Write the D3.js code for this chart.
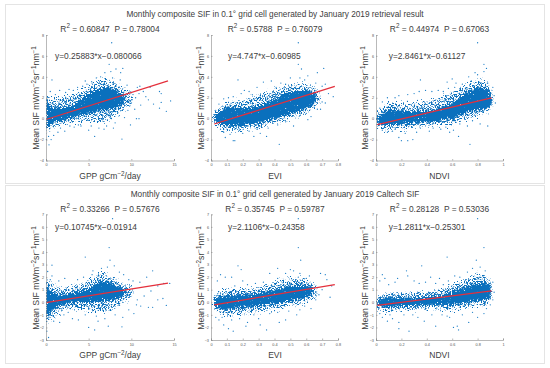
<!DOCTYPE html>
<html>
<head>
<meta charset="utf-8">
<script src="https://cdn.jsdelivr.net/npm/d3@7"></script>
<style>
  body { margin: 0; background: #fff; }
  text { font-family: "Liberation Sans", Arial, sans-serif; fill: #404040; white-space: pre; }
</style>
</head>
<body>
<div id="chart"></div>
<script>
// Headings and labels
var topTitle = "Monthly composite SIF in 0.1° grid cell generated by January 2019 retrieval result";
var bottomTitle = "Monthly composite SIF in 0.1° grid cell generated by January 2019 Caltech SIF";
var xLabels = [["GPP gCm", "−2", "/day"], ["EVI"], ["NDVI"]];

var gppTicks = [0, 5, 10, 15];
var eviTicks = [0, 0.1, 0.2, 0.3, 0.4, 0.5, 0.6, 0.7, 0.8];
var ndviTicks = [0, 0.2, 0.4, 0.6, 0.8, 1];
var topYTicks = [-4, -2, 0, 2, 4, 6, 8];
var bottomYTicks = [-3, -2, -1, 0, 1, 2, 3, 4, 5, 6, 7];

var topR2 = ["0.60847", "0.5788", "0.44974"];
var topP = ["0.78004", "0.76079", "0.67063"];
var topEq = ["y=0.25883*x−0.080066", "y=4.747*x−0.60985", "y=2.8461*x−0.61127"];
var bottomR2 = ["0.33266", "0.35745", "0.28128"];
var bottomP = ["0.57676", "0.59787", "0.53036"];
var bottomEq = ["y=0.10745*x−0.01914", "y=2.1106*x−0.24358", "y=1.2811*x−0.25301"];

// Fit lines, end points
var gppTopFit = [[0, -0.08], [14.3, 3.62]];
var eviTopFit = [[0.02, -0.51], [0.78, 3.09]];
var ndviTopFit = [[0.01, -0.58], [0.91, 1.98]];
var gppBottomFit = [[0, -0.02], [14.3, 1.52]];
var eviBottomFit = [[0.02, -0.2], [0.78, 1.4]];
var ndviBottomFit = [[0.01, -0.24], [0.91, 0.91]];

// The clouds hold thousands of points that can't be read one by one,
// so the saturated core and the speckled fringe are outlines
var gppTopCore = [[0,-0.9],[1,-0.3],[2,-0.1],[3,0.1],[4,0.4],[5,0.5],[6,0.8],[7,0.8],[8,1],[9,1.4],[9.2,1.8],[9,2.2],[8,2.8],[7,3],[6,2.8],[5,2.4],[4,1.8],[3,1.2],[2,1.1],[1,1],[0,1.4]];
var gppTopHalo = [[0,-1.4],[1,-0.8],[2,-0.5],[3,-0.3],[4,-0.2],[5,-0.2],[6,-0.2],[7,-0.2],[8,0.1],[9,0.7],[10,1.3],[10.4,1.8],[10,2.5],[9,3],[8,3.5],[7,3.9],[6,3.5],[5,3],[4,2.5],[3,2.2],[2,2],[1,1.8],[0,2]];
var eviTopCore = [[0.02,-0.2],[0.05,-0.55],[0.1,-0.7],[0.2,-0.6],[0.3,-0.4],[0.4,0],[0.5,0.5],[0.6,1],[0.65,1.5],[0.66,2],[0.65,2.4],[0.6,2.7],[0.5,2.6],[0.4,1.9],[0.3,1.2],[0.2,1],[0.1,1.1],[0.05,0.6],[0.02,0.2]];
var eviTopHalo = [[0.01,-0.1],[0.05,-0.7],[0.1,-1.1],[0.2,-1],[0.3,-0.9],[0.4,-0.4],[0.5,0],[0.6,0.6],[0.67,1.2],[0.7,1.9],[0.68,2.7],[0.6,3.3],[0.5,3.2],[0.4,2.7],[0.3,2.2],[0.2,1.7],[0.1,1.6],[0.05,0.8],[0.01,0.2]];
var ndviTopCore = [[0.01,-0.5],[0.1,-0.6],[0.2,-0.5],[0.3,-0.4],[0.4,-0.3],[0.5,-0.2],[0.6,0],[0.7,0.6],[0.8,0.8],[0.88,1],[0.91,1.5],[0.9,2.5],[0.88,2.9],[0.8,3],[0.7,2.4],[0.6,1.5],[0.5,1],[0.4,0.8],[0.3,0.6],[0.2,0.7],[0.1,0.9],[0.01,0.2]];
var ndviTopHalo = [[0.01,-0.7],[0.1,-1],[0.2,-0.9],[0.3,-0.8],[0.4,-0.7],[0.5,-0.5],[0.6,-0.5],[0.7,0],[0.8,0.2],[0.88,0.7],[0.92,1.1],[0.93,1.8],[0.92,2.5],[0.88,3.5],[0.8,3.6],[0.7,3.1],[0.6,2.5],[0.5,1.9],[0.4,1.6],[0.3,1.4],[0.2,1.4],[0.1,1.4],[0.01,0.4]];
var gppBottomCore = [[0,-1.2],[1,-0.4],[2,-0.2],[3,0],[4,0],[5,0],[6,0.1],[7,0.1],[8,0.2],[9,0.5],[9.3,0.8],[9,1],[8,1.4],[7,1.7],[6,1.6],[5,1.1],[4,0.9],[3,0.7],[2,0.6],[1,0.6],[0,1.2]];
var gppBottomHalo = [[0,-1.8],[1,-1.1],[2,-0.7],[3,-0.5],[4,-0.5],[5,-0.6],[6,-0.7],[7,-0.7],[8,-0.5],[9,-0.1],[10,0.4],[10.4,0.9],[10,1.3],[9,1.5],[8,1.9],[7,2.3],[6,2.1],[5,1.7],[4,1.4],[3,1.2],[2,1.1],[1,1.3],[0,1.8]];
var eviBottomCore = [[0.02,-0.3],[0.05,-0.6],[0.1,-0.6],[0.2,-0.4],[0.3,-0.3],[0.4,-0.1],[0.5,0.1],[0.6,0.4],[0.63,0.6],[0.63,1.1],[0.6,1.3],[0.5,1.3],[0.4,1],[0.3,0.7],[0.2,0.6],[0.1,0.5],[0.05,0.5],[0.02,0.2]];
var eviBottomHalo = [[0.015,-0.1],[0.03,-0.5],[0.1,-1],[0.2,-0.9],[0.3,-0.7],[0.4,-0.5],[0.5,-0.3],[0.6,0],[0.67,0.5],[0.68,1],[0.65,1.5],[0.6,1.8],[0.5,1.9],[0.4,1.5],[0.3,1.1],[0.2,1],[0.1,1],[0.03,0.5]];
var ndviBottomCore = [[0.01,-0.3],[0.1,-0.4],[0.2,-0.3],[0.3,-0.3],[0.4,-0.2],[0.5,-0.2],[0.6,-0.2],[0.7,0],[0.8,0.1],[0.88,0.2],[0.9,0.5],[0.9,1.2],[0.88,1.6],[0.8,1.5],[0.7,1.2],[0.6,0.9],[0.5,0.5],[0.4,0.4],[0.3,0.3],[0.2,0.4],[0.1,0.4],[0.01,0.2]];
var ndviBottomHalo = [[0.01,-0.4],[0.1,-0.7],[0.2,-0.6],[0.3,-0.6],[0.4,-0.5],[0.5,-0.5],[0.6,-0.6],[0.7,-0.4],[0.8,-0.3],[0.88,-0.2],[0.92,0.4],[0.92,1.2],[0.88,2.1],[0.8,2.2],[0.7,1.7],[0.6,1.3],[0.5,0.9],[0.4,0.8],[0.3,0.7],[0.2,0.7],[0.1,0.7],[0.01,0.4]];

// Individual points that stand clear of the clouds
var gppTopDots = [[7.7,7.26],[7.4,5.2],[8.2,4.75],[7.6,4.5],[9,4.8],[6.9,4.4],[0.7,3.7],[4.6,3.6],[5.35,3.55],[8.75,4.4],[8.9,-1.95],[5.7,-1.7],[0.35,-2.5],[0.6,-2],[0.05,-2],[5,-1.1],[9.9,-0.6],[10.6,0],[10.9,0],[14.1,0.7],[13.3,1],[13.5,1.55],[13.3,2.6],[13.5,2.4],[12.6,1.4],[11.7,2.1],[12,1.8],[10.7,3],[10.9,2.4],[10.2,2.3],[11.4,2.6],[14.6,1.7],[12.2,3],[11,3.1],[7.9,-0.9],[7.1,-0.7],[8.1,-0.4],[9.2,0.1],[9.6,0.8],[10.4,0.9],[11.1,1.3],[6.4,4],[5.9,3.9],[6.2,-0.9],[4.1,-0.7],[3.3,-0.8],[2.2,-1.2],[1.4,-1.3],[0.9,-1.6],[0.3,-1.7],[0.5,2.6],[1.1,2.3],[1.6,2.7],[2.3,2.5],[2.7,2.8],[3.2,2.7],[3.7,3],[4.3,3.1],[4.8,3.3],[5.4,3.4],[1.7,-0.9],[2.8,-0.7],[3.8,-0.6],[5.3,-0.7],[6.8,-1],[8.6,0.3],[9.8,1.2],[9.5,3.2],[8.7,3.7],[7.8,3.9],[10,1.5],[10.5,2]];
var eviTopDots = [[0.55,7.26],[0.55,5.2],[0.57,4.75],[0.67,4.4],[0.71,4.8],[0.61,4.1],[0.17,3.7],[0.33,3.5],[0.38,3.6],[0.5,3.9],[0.43,-2.45],[0.35,-1.7],[0.15,-2.1],[0.14,-2.1],[0.09,-1.8],[0.08,-1.3],[0.2,-1.4],[0.27,-1.7],[0.31,-1.4],[0.52,-0.7],[0.61,-0.1],[0.63,0.2],[0.67,0.9],[0.69,0.9],[0.72,1.5],[0.74,2.4],[0.77,2.1],[0.7,3.1],[0.66,3.4],[0.72,3.3],[0.56,3.9],[0.59,3.7],[0.47,3.3],[0.44,3.4],[0.41,3],[0.29,3],[0.24,2.6],[0.26,2.3],[0.19,2.4],[0.21,2.7],[0.14,2.1],[0.11,2],[0.08,1.9],[0.05,1.4],[0.03,0.8],[0.06,-1],[0.12,-1.5],[0.18,-1.1],[0.24,-1.2],[0.29,-1],[0.36,-0.9],[0.42,-0.6],[0.47,-0.3],[0.56,0.3],[0.6,0.5],[0.65,1.1],[0.7,1.6]];
var ndviTopDots = [[0.8,7.26],[0.85,5.2],[0.87,4.8],[0.78,4.4],[0.85,4.5],[0.73,4],[0.35,3.7],[0.56,3.5],[0.6,3.8],[0.63,3.4],[0.74,-2.45],[0.65,-1.7],[0.18,-1.8],[0.2,-2.1],[0.25,-2.1],[0.29,-2],[0.23,-1.4],[0.09,-1.3],[0.05,-1.1],[0.13,-1.2],[0.32,-1.3],[0.42,-1.2],[0.51,-1],[0.58,-1.3],[0.61,-1.1],[0.72,-0.7],[0.82,-0.5],[0.88,-0.7],[0.94,1.5],[0.93,2.2],[0.92,3],[0.88,3.4],[0.8,4.2],[0.75,3.6],[0.68,3.3],[0.62,3],[0.57,2.9],[0.53,2.6],[0.49,2.7],[0.44,2.6],[0.39,2.7],[0.34,2.6],[0.3,2.4],[0.25,2.3],[0.18,2.2],[0.15,2],[0.09,2],[0.05,1.6],[0.03,1],[0.06,-0.9],[0.15,-1],[0.35,-0.9],[0.45,-0.9],[0.55,-0.8],[0.66,-0.5],[0.76,-0.2]];
var gppBottomDots = [[7.8,6.65],[7.4,4.35],[7.5,3.35],[4.6,3.6],[0.7,2.95],[0.2,2.45],[8.9,-1.95],[5,-2],[5.7,-2.2],[7.3,-1.9],[0.1,-2.3],[0.3,-2.8],[0.9,-1.5],[1.6,-1.6],[3.8,-1.4],[3.1,-1.3],[6.1,-1.5],[6.9,-1.3],[9,-1.2],[10.3,-0.9],[11.1,-0.3],[12,-0.4],[12.5,-0.4],[14.1,-0.25],[13.7,0.3],[13.1,0.2],[12.3,0.9],[11.8,2],[12.5,2.5],[13.8,1.5],[14.5,1.5],[13.1,1.3],[11,1.6],[10.2,1.7],[9.7,1.8],[9.1,2.2],[8.6,2.4],[8,2.9],[7.2,2.8],[6.5,2.7],[5.5,2.5],[5.4,2.2],[4.4,2],[3.7,1.8],[2.2,1.9],[1.5,1.7],[0.7,2.1],[0.5,1.8],[1,-1.2],[2.1,-1],[2.6,-0.8],[4.6,-1],[5.9,-1.1],[8.1,-1],[9.7,-0.6],[10.6,-0.2],[11.5,0.5],[10.7,0.2]];
var eviBottomDots = [[0.55,6.65],[0.55,4.35],[0.565,3.35],[0.17,2.9],[0.19,2.6],[0.06,2.2],[0.04,1.7],[0.09,2],[0.13,2],[0.2,1.7],[0.37,2.3],[0.42,2.7],[0.47,2.3],[0.5,2.6],[0.52,2.5],[0.56,2.3],[0.62,2.1],[0.69,2.3],[0.72,2.2],[0.73,1.8],[0.76,1.3],[0.75,0.4],[0.7,1],[0.63,-0.5],[0.56,-0.6],[0.54,-1],[0.47,-1.4],[0.43,-1.6],[0.35,-2.2],[0.31,-1.8],[0.3,-1.3],[0.23,-1.6],[0.22,-1.9],[0.14,-2.3],[0.11,-2.1],[0.08,-1.8],[0.05,-1.4],[0.03,-1.2],[0.07,-1.2],[0.13,-1.4],[0.18,-1.3],[0.27,-1],[0.37,-0.9],[0.42,-0.8],[0.49,-0.7],[0.59,-0.3],[0.66,0.2],[0.68,0.6],[0.28,1.5],[0.33,1.6],[0.23,1.4],[0.15,1.3],[0.42,1.9],[0.55,2],[0.6,1.9]];
var ndviBottomDots = [[0.8,6.65],[0.85,4.35],[0.79,3.35],[0.56,3.6],[0.36,2.9],[0.24,2.5],[0.25,2.1],[0.05,2.2],[0.07,1.9],[0.03,1.7],[0.17,1.9],[0.15,1.6],[0.1,1.4],[0.3,1.7],[0.34,1.5],[0.39,1.6],[0.43,2],[0.47,1.5],[0.5,1.9],[0.53,1.4],[0.57,1.7],[0.62,2.1],[0.66,2],[0.72,2.4],[0.76,2.7],[0.82,2.8],[0.86,2.5],[0.92,1.6],[0.93,0.8],[0.92,0.2],[0.85,-0.9],[0.8,-1.2],[0.73,-1.6],[0.64,-1.9],[0.61,-2],[0.65,-2.2],[0.58,-1.2],[0.47,-1.9],[0.38,-1.5],[0.26,-2.3],[0.18,-2.1],[0.18,-1.6],[0.13,-1.3],[0.09,-1.5],[0.05,-1.2],[0.03,-0.9],[0.11,-1],[0.22,-1],[0.29,-1],[0.33,-1.2],[0.44,-1],[0.52,-1],[0.56,-1.1],[0.68,-1],[0.76,-0.8],[0.87,-0.5],[0.9,-0.2]];

// Page layout
var svgWidth = 550;
var svgHeight = 368;
var panelX = [[46, 174], [211, 338], [376, 503]];
var labelX = [39, 204, 368];
var centerX = [110, 275, 439.5];
var eqX = [55, 228, 388.7];

var svg = d3.select("#chart")
    .append("svg")
    .attr("width", svgWidth)
    .attr("height", svgHeight);

// Texture only: gives the flat cloud outlines a stippled, rough edged look
var defs = svg.append("defs");
function addStipple(id, gain, offset, scale) {
    var f = defs.append("filter")
        .attr("id", id)
        .attr("filterUnits", "userSpaceOnUse")
        .attr("x", 0).attr("y", 0)
        .attr("width", svgWidth).attr("height", svgHeight)
        .attr("color-interpolation-filters", "sRGB");
    f.append("feTurbulence")
        .attr("type", "fractalNoise")
        .attr("baseFrequency", 0.7)
        .attr("numOctaves", 2)
        .attr("seed", 7)
        .attr("result", "noise");
    f.append("feDisplacementMap")
        .attr("in", "SourceGraphic")
        .attr("in2", "noise")
        .attr("scale", scale)
        .attr("xChannelSelector", "R")
        .attr("yChannelSelector", "G")
        .attr("result", "rough");
    f.append("feColorMatrix")
        .attr("in", "noise")
        .attr("type", "matrix")
        .attr("values", `0 0 0 0 0  0 0 0 0 0  0 0 0 0 0  ${gain} 0 0 0 ${offset}`)
        .attr("result", "mask");
    f.append("feComposite")
        .attr("in", "rough")
        .attr("in2", "mask")
        .attr("operator", "in");
    f.append("feGaussianBlur").attr("stdDeviation", 0.35);
}
addStipple("stippleHalo", 8, -3.7, 16);
addStipple("stippleCore", 8, -1.1, 10);

var rows = [
    {
        card: [5, 4, 539, 179], title: topTitle, titleY: 17, r2Y: 31.5, eqY: 59, labelY: 98, xLabelY: 179,
        y0: 160.5, y1: 35, yDomain: [-4, 8], yTicks: topYTicks, r2: topR2, p: topP, eq: topEq,
        fits: [gppTopFit, eviTopFit, ndviTopFit],
        cores: [gppTopCore, eviTopCore, ndviTopCore],
        halos: [gppTopHalo, eviTopHalo, ndviTopHalo],
        dots: [gppTopDots, eviTopDots, ndviTopDots]
    },
    {
        card: [5, 185, 539, 178], title: bottomTitle, titleY: 196.5, r2Y: 211.5, eqY: 230, labelY: 278, xLabelY: 358,
        y0: 340, y1: 214.3, yDomain: [-3, 7], yTicks: bottomYTicks, r2: bottomR2, p: bottomP, eq: bottomEq,
        fits: [gppBottomFit, eviBottomFit, ndviBottomFit],
        cores: [gppBottomCore, eviBottomCore, ndviBottomCore],
        halos: [gppBottomHalo, eviBottomHalo, ndviBottomHalo],
        dots: [gppBottomDots, eviBottomDots, ndviBottomDots]
    }
];
var xConfigs = [
    { domain: [0, 15], ticks: gppTicks },
    { domain: [0, 0.8], ticks: eviTicks },
    { domain: [0, 1], ticks: ndviTicks }
];

// Append text made of plain parts and superscript parts
function superText(sel, parts) {
    parts.forEach(function (part, i) {
        var isSup = i % 2 === 1;
        sel.append("tspan")
            .attr("dy", isSup ? -3.2 : (i > 0 ? 3.2 : 0))
            .style("font-size", isSup ? "6.3px" : null)
            .text(part);
    });
}

rows.forEach(function (row, r) {
    svg.append("rect")
        .attr("x", row.card[0] + 0.5)
        .attr("y", row.card[1] + 0.5)
        .attr("width", row.card[2])
        .attr("height", row.card[3])
        .attr("fill", "#fff")
        .attr("stroke", "#e4e4e4");

    svg.append("text")
        .attr("x", svgWidth / 2)
        .attr("y", row.titleY)
        .attr("text-anchor", "middle")
        .style("font-size", "8.25px")
        .text(row.title);

    xConfigs.forEach(function (cfg, i) {
        var xScale = d3.scaleLinear().domain(cfg.domain).range(panelX[i]);
        var yScale = d3.scaleLinear().domain(row.yDomain).range([row.y0, row.y1]);
        var g = svg.append("g");

        var clipId = `clip${r}${i}`;
        defs.append("clipPath").attr("id", clipId).append("rect")
            .attr("x", panelX[i][0])
            .attr("y", row.y1)
            .attr("width", panelX[i][1] - panelX[i][0])
            .attr("height", row.y0 - row.y1);

        var outline = d3.line()
            .x(d => xScale(d[0]))
            .y(d => yScale(d[1]))
            .curve(d3.curveLinearClosed);

        var cloud = g.append("g").attr("clip-path", `url(#${clipId})`);
        cloud.append("path")
            .attr("d", outline(row.halos[i]))
            .attr("fill", "#0a70bd")
            .attr("filter", "url(#stippleHalo)");
        cloud.append("path")
            .attr("d", outline(row.cores[i]))
            .attr("fill", "#0a70bd")
            .attr("filter", "url(#stippleCore)");

        g.selectAll("circle")
            .data(row.dots[i])
            .enter().append("circle")
            .attr("cx", d => xScale(d[0]))
            .attr("cy", d => yScale(d[1]))
            .attr("r", 0.65)
            .attr("fill", "#1f80c8");

        g.append("path")
            .attr("d", d3.line().x(d => xScale(d[0])).y(d => yScale(d[1]))(row.fits[i]))
            .attr("fill", "none")
            .attr("stroke", "#e4303c")
            .attr("stroke-width", 1.3);

        var bottomAxis = d3.axisBottom(xScale).tickValues(cfg.ticks).tickSize(-1.5).tickPadding(3).tickFormat(d3.format("~g"));
        var leftAxis = d3.axisLeft(yScale).tickValues(row.yTicks).tickSize(-1.5).tickPadding(2).tickFormat(d3.format("~g"));

        var xAxisG = g.append("g").attr("transform", `translate(0, ${row.y0})`).call(bottomAxis);
        var yAxisG = g.append("g").attr("transform", `translate(${panelX[i][0]}, 0)`).call(leftAxis);

        [xAxisG, yAxisG].forEach(function (axis) {
            axis.selectAll("path, line").attr("stroke", "#8a8a8a").attr("stroke-width", 0.6);
            axis.selectAll("text").style("font-size", "3.8px").style("fill", "#555");
        });

        superText(g.append("text")
            .attr("x", centerX[i])
            .attr("y", row.r2Y)
            .attr("text-anchor", "middle")
            .style("font-size", "8.4px"),
            ["R", "2", ` = ${row.r2[i]}  P = ${row.p[i]}`]);

        g.append("text")
            .attr("x", eqX[i])
            .attr("y", row.eqY)
            .style("font-size", "8.4px")
            .text(row.eq[i]);

        superText(g.append("text")
            .attr("x", centerX[i])
            .attr("y", row.xLabelY)
            .attr("text-anchor", "middle")
            .style("font-size", "8.5px"),
            xLabels[i]);

        superText(g.append("text")
            .attr("transform", `translate(${labelX[i]}, ${row.labelY}) rotate(-90)`)
            .attr("text-anchor", "middle")
            .style("font-size", "8.7px"),
            ["Mean SIF mWm", "−2", "sr", "−1", "nm", "−1"]);
    });
});
</script>
</body>
</html>
